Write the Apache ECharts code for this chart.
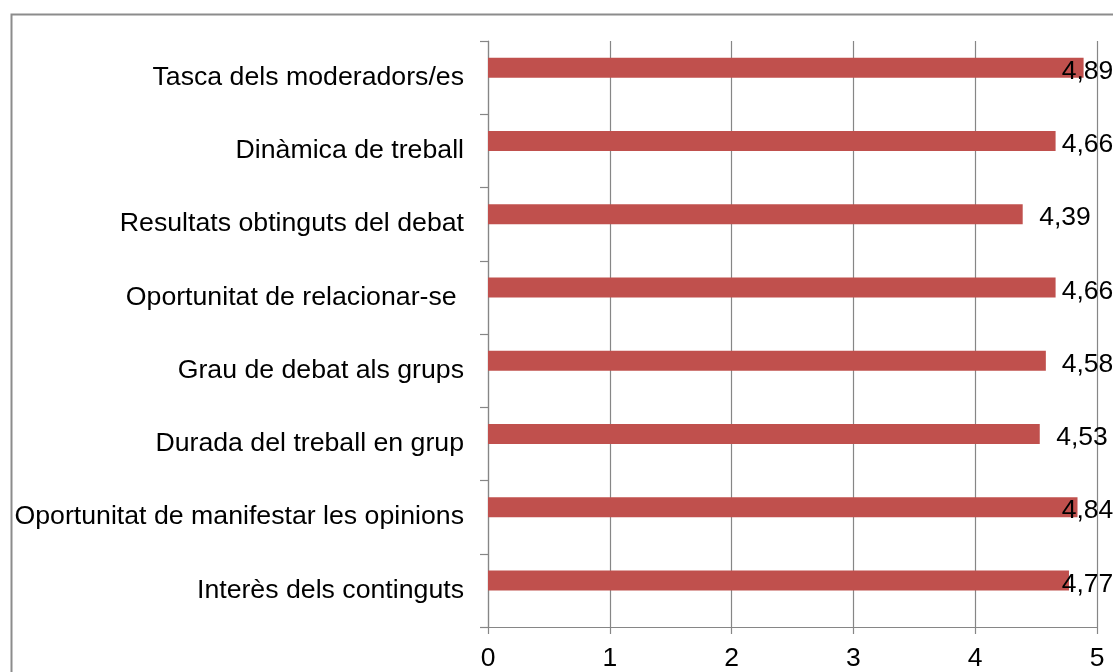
<!DOCTYPE html>
<html>
<head>
<meta charset="utf-8">
<script src="https://cdn.jsdelivr.net/npm/echarts@6/dist/echarts.min.js"></script>
<style>
html,body{margin:0;padding:0;background:#fff;}
#c{width:1113px;height:672px;}
</style>
</head>
<body>
<div id="c"></div>
<script>
const categories = [
  "Tasca dels moderadors/es",
  "Dinàmica de treball",
  "Resultats obtinguts del debat",
  "Oportunitat de relacionar-se ",
  "Grau de debat als grups",
  "Durada del treball en grup",
  "Oportunitat de manifestar les opinions",
  "Interès dels continguts"
];
const values = [4.89, 4.66, 4.39, 4.66, 4.58, 4.53, 4.84, 4.77];
const xTicks = [0, 1, 2, 3, 4, 5];

const FONT = "'Liberation Sans', Arial, sans-serif";
const gridLeft = 488, gridRight = 16;
const plotW = 1113 - gridLeft - gridRight;
const xMax = xTicks[xTicks.length - 1];
const unit = plotW / xMax;
const labelMaxLeft = 1061.7 - gridLeft;

const barData = values.map(v => ({
  value: v,
  label: {
    position: [Math.min(v * unit + 16.5, labelMaxLeft), 14]
  }
}));

const chart = echarts.init(document.getElementById('c'), null, {renderer: 'canvas'});
chart.setOption({
  animation: false,
  backgroundColor: '#ffffff',
  graphic: [{
    type: 'rect',
    left: 9, top: 12, z: -1,
    shape: {x: 0, y: 0, width: 1300, height: 900},
    style: {fill: 'none', stroke: '#8c8c8c', lineWidth: 2}
  }],
  grid: {left: gridLeft, right: gridRight, top: 41, bottom: 45, containLabel: false},
  xAxis: {
    type: 'value',
    min: xTicks[0], max: xMax, interval: 1,
    axisLine: {show: true, lineStyle: {color: '#868686', width: 1.2}},
    axisTick: {show: true, length: 7, lineStyle: {color: '#868686', width: 1.2}},
    splitLine: {show: true, lineStyle: {color: '#868686', width: 1.2}},
    axisLabel: {color: '#000', fontFamily: FONT, fontSize: 26.5, margin: 18,
      formatter: v => String(v)}
  },
  yAxis: {
    type: 'category',
    data: categories,
    inverse: true,
    axisLine: {show: true, lineStyle: {color: '#868686', width: 1.2}},
    axisTick: {show: true, length: 8, alignWithLabel: false, lineStyle: {color: '#868686', width: 1.2}},
    splitLine: {show: false},
    axisLabel: {color: '#000', fontFamily: FONT, fontSize: 26.7, margin: 24}
  },
  series: [
    {
      name: 'Sèrie 1',
      type: 'bar',
      data: barData,
      barWidth: 20,
      barGap: '0%',
      itemStyle: {color: '#C0504D'},
      label: {
        show: true,
        color: '#000',
        fontFamily: FONT,
        fontSize: 26.5,
        align: 'left',
        verticalAlign: 'middle',
        formatter: p => p.value.toFixed(2).replace('.', ',')
      }
    },
    {
      name: 'Sèrie 2',
      type: 'bar',
      data: [],
      barWidth: 20,
      barGap: '0%'
    }
  ]
});
</script>
</body>
</html>
